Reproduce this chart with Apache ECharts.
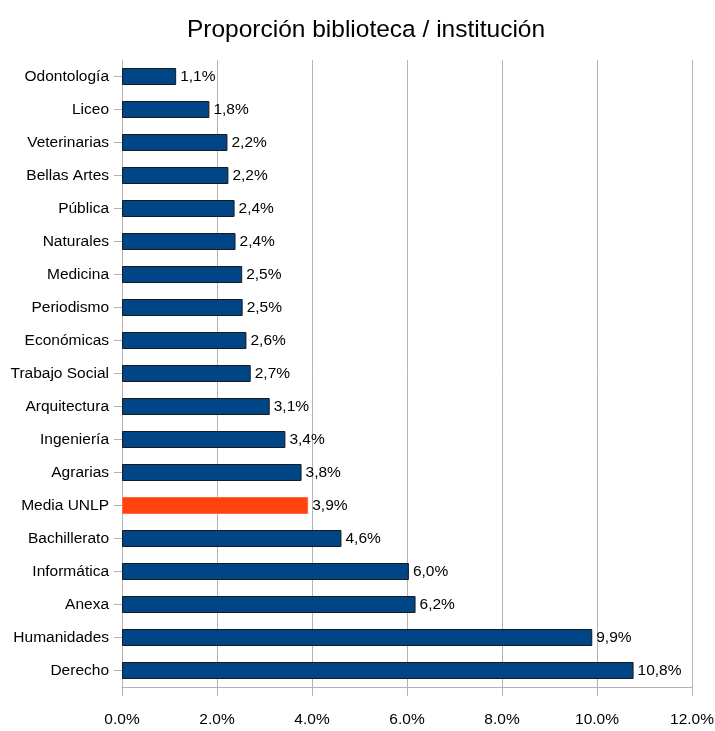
<!DOCTYPE html>
<html>
<head>
<meta charset="utf-8">
<script src="https://cdn.jsdelivr.net/npm/echarts@6/dist/echarts.min.js"></script>
<style>
  html, body { margin: 0; padding: 0; background: #fff; }
  #chart { width: 715px; height: 731px; }
</style>
</head>
<body>
<div id="chart"></div>
<script>
// categorias, de arriba hacia abajo
var categorias = [
  "Odontología", "Liceo", "Veterinarias", "Bellas Artes", "Pública",
  "Naturales", "Medicina", "Periodismo", "Económicas", "Trabajo Social",
  "Arquitectura", "Ingeniería", "Agrarias", "Media UNLP", "Bachillerato",
  "Informática", "Anexa", "Humanidades", "Derecho"
];
var proporcion = [
  1.14, 1.84, 2.22, 2.24, 2.37,
  2.39, 2.53, 2.54, 2.62, 2.71,
  3.11, 3.44, 3.78, 3.92, 4.62,
  6.04, 6.18, 9.90, 10.77
];
var destacado = "Media UNLP";
var ejeTicks = [0, 2, 4, 6, 8, 10, 12];

var fuente = "'Liberation Sans', Arial, sans-serif";

var chart = echarts.init(document.getElementById("chart"));

var datos = proporcion.map(function (v, i) {
  var rojo = categorias[i] === destacado;
  return {
    value: v,
    itemStyle: rojo
      ? { color: "#ff420e", borderColor: "#ff6a45", borderWidth: 1 }
      : { color: "#004586", borderColor: "#1a1a1a", borderWidth: 1 }
  };
});

var option = {
  animation: false,
  title: {
    text: "Proporción biblioteca / institución",
    left: 361,
    top: 13,
    textAlign: "center",
    textStyle: {
      fontFamily: fuente,
      fontSize: 24.5,
      fontWeight: "normal",
      color: "#000"
    }
  },
  grid: { left: 122, right: 23, top: 60, bottom: 44, containLabel: false, outerBoundsMode: "none" },
  xAxis: {
    type: "value",
    min: ejeTicks[0],
    max: ejeTicks[ejeTicks.length - 1],
    interval: 2,
    axisLine: { show: true, lineStyle: { color: "#b3b3b3" } },
    axisTick: { show: true, length: 9, lineStyle: { color: "#b3b3b3" } },
    splitLine: { show: true, lineStyle: { color: "#b3b3b3" } },
    axisLabel: {
      margin: 25,
      fontFamily: fuente,
      fontSize: 15.5,
      color: "#000",
      formatter: function (v) { return v.toFixed(1) + "%"; }
    }
  },
  yAxis: {
    type: "category",
    data: categorias,
    inverse: true,
    axisLine: { show: true, lineStyle: { color: "#b3b3b3" } },
    axisTick: { show: true, alignWithLabel: true, length: 8, lineStyle: { color: "#b3b3b3" } },
    splitLine: { show: false },
    axisLabel: {
      margin: 13,
      fontFamily: fuente,
      fontSize: 15.5,
      color: "#000"
    }
  },
  series: [{
    type: "bar",
    data: datos,
    barWidth: 17,
    label: {
      show: true,
      position: "right",
      distance: 4,
      fontFamily: fuente,
      fontSize: 15.5,
      color: "#000",
      formatter: function (p) { return p.value.toFixed(1).replace(".", ",") + "%"; }
    }
  }]
};

chart.setOption(option);
</script>
</body>
</html>
